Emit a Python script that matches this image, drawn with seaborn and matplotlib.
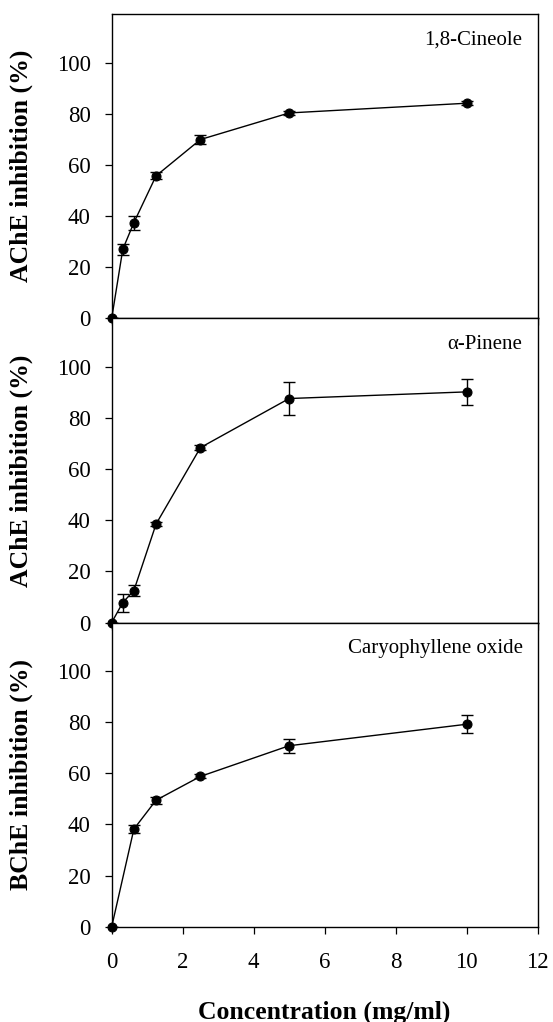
import matplotlib
matplotlib.use("Agg")
import matplotlib.pyplot as plt
import seaborn as sns
import pandas as pd
import numpy as np

sns.set_theme(style="ticks")
plt.rcParams['font.family'] = ['Liberation Serif', 'DejaVu Serif']
plt.rcParams['text.color'] = 'black'
plt.rcParams['axes.labelcolor'] = 'black'

# Data
conc_a = [0, 0.3125, 0.625, 1.25, 2.5, 5, 10]
cineole = [0, 27.0, 37.4, 55.7, 69.9, 80.3, 84.1]
cineole_err = [0, 2.2, 2.7, 1.4, 1.9, 0.8, 0.8]

pinene = [0, 7.8, 12.5, 38.5, 68.4, 87.6, 90.2]
pinene_err = [0, 3.5, 2.1, 0.8, 1.0, 6.6, 5.1]

conc_c = [0, 0.625, 1.25, 2.5, 5, 10]
caryo = [0, 38.2, 49.5, 58.8, 70.8, 79.2]
caryo_err = [0, 1.5, 1.3, 0.8, 2.7, 3.5]

panel_names = ["1,8-Cineole", "\u03b1-Pinene", "Caryophyllene oxide"]
ylabels = ["AChE inhibition (%)", "AChE inhibition (%)", "BChE inhibition (%)"]
xticks = [0, 2, 4, 6, 8, 10, 12]
yticks = [0, 20, 40, 60, 80, 100]
xlabel = "Concentration (mg/ml)"

series = [(conc_a, cineole, cineole_err),
          (conc_a, pinene, pinene_err),
          (conc_c, caryo, caryo_err)]

fig = plt.figure(figsize=(5.53, 10.22), dpi=100)
left, right = 0.202, 0.972
top, bottom = 0.9863, 0.0932
h = (top - bottom) / 3
axes = []
for i in range(3):
    ax = fig.add_axes([left, top - (i + 1) * h, right - left, h])
    axes.append(ax)

for i, (ax, (x, y, e)) in enumerate(zip(axes, series)):
    df = pd.DataFrame({"x": x, "y": y})
    ax.errorbar(x, y, yerr=e, fmt='none', ecolor='black', elinewidth=1.0,
                capsize=4.5, capthick=1.0, zorder=2)
    sns.lineplot(data=df, x="x", y="y", ax=ax, color='black', marker='o',
                 markersize=6.5, markeredgecolor='black', linewidth=1.0,
                 zorder=3, clip_on=False)
    ax.set_xlim(0, 12)
    ax.set_ylim(0, 119)
    ax.set_xticks(xticks)
    ax.set_yticks(yticks)
    ax.tick_params(direction='out', length=5, width=0.9, labelsize=16.5,
                   colors='black', labelcolor='black')
    ax.tick_params(axis='y', pad=10)
    ax.tick_params(axis='x', pad=13)
    for sp in ax.spines.values():
        sp.set_linewidth(1.0)
        sp.set_color('black')
        sp.set_visible(True)
    ax.set_ylabel(ylabels[i], fontsize=18.5, fontweight='bold', color='black')
    ax.yaxis.set_label_coords(-0.185, 0.5)
    ax.text(0.965, 0.915, panel_names[i], transform=ax.transAxes,
            ha='right', va='center', fontsize=15, color='black')
    if i < 2:
        ax.set_xticklabels([])
        ax.set_xlabel("")
    else:
        ax.set_xticklabels([str(t) for t in xticks])
        ax.set_xlabel(xlabel, fontsize=18.5, fontweight='bold', labelpad=20,
                      color='black')

fig.savefig("out.png", dpi=100)
